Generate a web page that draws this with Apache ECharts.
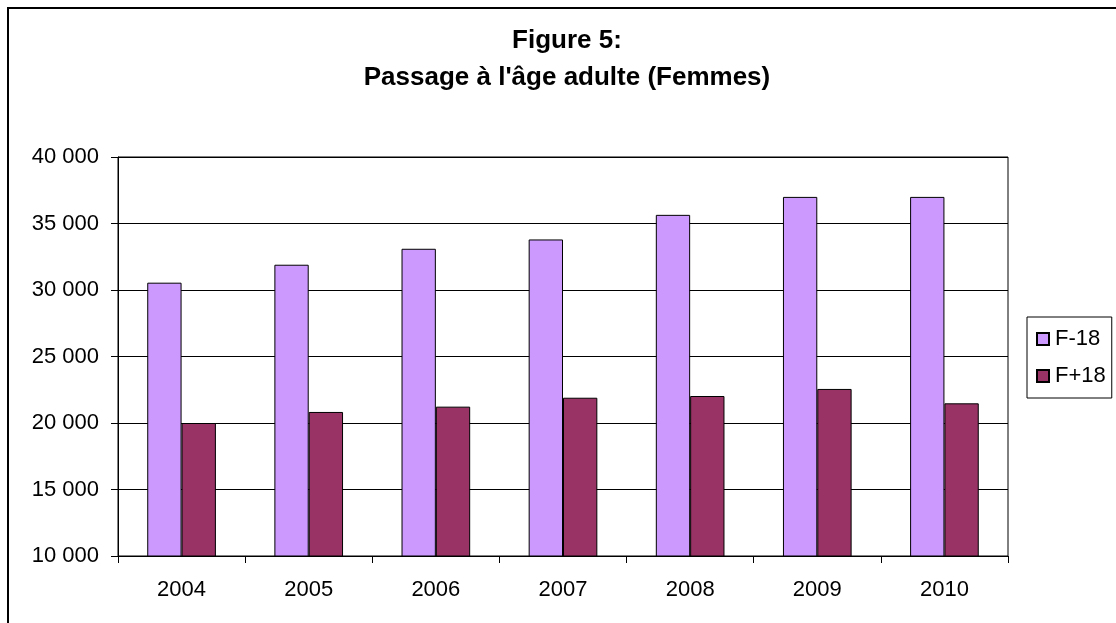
<!DOCTYPE html>
<html>
<head>
<meta charset="utf-8">
<script src="https://cdn.jsdelivr.net/npm/echarts@6/dist/echarts.min.js"></script>
<style>
html, body { margin: 0; padding: 0; background: #fff; }
#chart { width: 1116px; height: 623px; }
</style>
</head>
<body>
<div id="chart"></div>
<script>
const categories = ['2004', '2005', '2006', '2007', '2008', '2009', '2010'];
const seriesNames = ['F-18', 'F+18'];
const valuesFMinus18 = [30550, 31900, 33100, 33800, 35650, 37000, 37000];
const valuesFPlus18 = [20000, 20830, 21230, 21900, 22030, 22560, 21480];
const titleLines = ['Figure 5:', "Passage à l'âge adulte (Femmes)"];

const FONT = "'Liberation Sans', Arial, Helvetica, sans-serif";
const chart = echarts.init(document.getElementById('chart'), null, { renderer: 'canvas' });

function fmt(v) {
  return String(v).replace(/\B(?=(\d{3})+(?!\d))/g, ' ');
}

const option = {
  backgroundColor: '#ffffff',
  animation: false,
  textStyle: { fontFamily: FONT },
  graphic: [
    {
      type: 'polyline',
      shape: { points: [[8, 640], [8, 8], [1130, 8]] },
      style: { stroke: '#000', lineWidth: 2, fill: null }
    },
    {
      type: 'text', x: 567, y: 41,
      style: { text: titleLines[0], textAlign: 'center', textVerticalAlign: 'middle',
        font: "bold 26px " + FONT, fill: '#000' }
    },
    {
      type: 'text', x: 567, y: 78,
      style: { text: titleLines[1], textAlign: 'center', textVerticalAlign: 'middle',
        font: "bold 26px " + FONT, fill: '#000' }
    }
  ],
  legend: {
    orient: 'vertical',
    left: 1027,
    top: 317,
    padding: [11, 6, 11, 9],
    itemWidth: 12,
    itemHeight: 12,
    itemGap: 15,
    icon: 'rect',
    borderColor: '#000',
    borderWidth: 1,
    textStyle: { fontSize: 22, color: '#000', fontFamily: FONT, padding: [0, 0, 0, 1] },
    data: seriesNames
  },
  grid: {
    left: 118,
    right: 108,
    top: 157,
    bottom: 67,
    show: true,
    borderColor: '#000',
    borderWidth: 1,
    containLabel: false
  },
  xAxis: {
    type: 'category',
    data: categories,
    boundaryGap: true,
    axisLine: { lineStyle: { color: '#000', width: 1 } },
    axisTick: { show: true, length: 7, inside: false, alignWithLabel: false, lineStyle: { color: '#000' } },
    axisLabel: { fontSize: 22, color: '#000', margin: 23, fontFamily: FONT },
    splitLine: { show: false }
  },
  yAxis: {
    type: 'value',
    min: 10000,
    max: 40000,
    interval: 5000,
    axisLine: { show: true, lineStyle: { color: '#000', width: 1 } },
    axisTick: { show: true, length: 7, inside: false, lineStyle: { color: '#000' } },
    axisLabel: { fontSize: 22, color: '#000', margin: 19, fontFamily: FONT, formatter: fmt },
    splitLine: { show: true, lineStyle: { color: '#000', width: 1 } }
  },
  series: [
    {
      name: seriesNames[0],
      type: 'bar',
      data: valuesFMinus18,
      barGap: '0%',
      barCategoryGap: '46%',
      itemStyle: { color: '#CC99FF', borderColor: '#000', borderWidth: 1 }
    },
    {
      name: seriesNames[1],
      type: 'bar',
      data: valuesFPlus18,
      barGap: '0%',
      barCategoryGap: '46%',
      itemStyle: { color: '#993366', borderColor: '#000', borderWidth: 1 }
    }
  ]
};

chart.setOption(option);
</script>
</body>
</html>
